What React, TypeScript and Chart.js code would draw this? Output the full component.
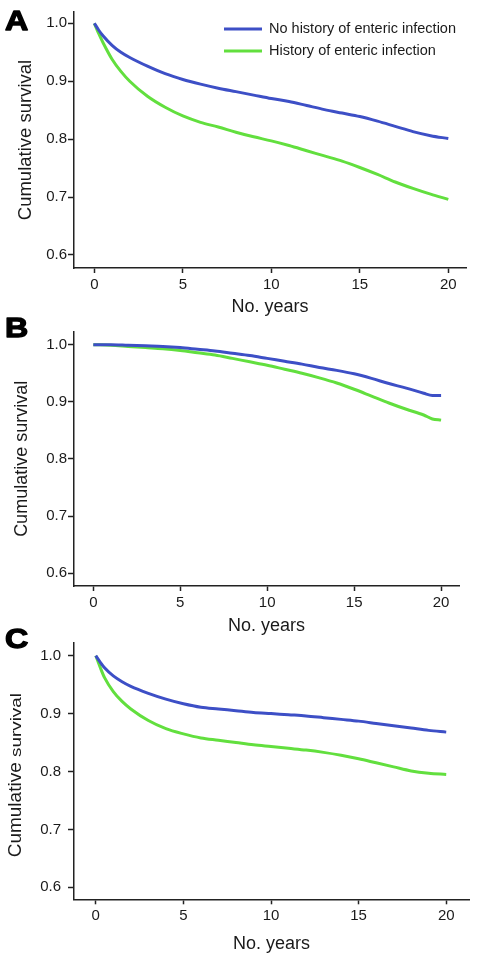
import React, { useEffect, useRef } from 'react';
import { Chart, registerables } from 'chart.js';

Chart.register(...registerables);

const FONT = "'Liberation Sans', Arial, sans-serif";

const SERIES_LABELS = ['No history of enteric infection', 'History of enteric infection'];
const SERIES_COLORS = ['#3d4fc6', '#62df3e'];
const X_TICKS = [0, 5, 10, 15, 20];
const Y_TICKS = [0.6, 0.7, 0.8, 0.9, 1.0];
const X_TITLE = 'No. years';
const Y_TITLE = 'Cumulative survival';

// Panel A
const YEARS_A = [0, 0.25, 0.5, 1, 1.5, 2, 3, 4, 5, 6, 7, 8, 9, 10, 11, 12, 13, 14, 15, 16, 17, 18, 19, 20];
const A_NO_HISTORY = [1.0, 0.988, 0.978, 0.962, 0.950, 0.941, 0.926, 0.913, 0.903, 0.895, 0.888, 0.882, 0.876, 0.870, 0.865, 0.858, 0.851, 0.845, 0.839, 0.831, 0.822, 0.813, 0.806, 0.801];
const A_HISTORY = [1.0, 0.982, 0.966, 0.938, 0.917, 0.900, 0.874, 0.855, 0.840, 0.829, 0.821, 0.812, 0.804, 0.797, 0.789, 0.780, 0.771, 0.762, 0.751, 0.739, 0.726, 0.715, 0.705, 0.696];

// Panel B
const YEARS_B = [0, 1, 2, 3, 4, 5, 6, 7, 8, 9, 10, 11, 12, 13, 14, 15, 16, 17, 18, 19, 19.5, 20];
const B_NO_HISTORY = [1.0, 1.0, 0.999, 0.998, 0.997, 0.995, 0.992, 0.989, 0.985, 0.981, 0.976, 0.971, 0.966, 0.960, 0.955, 0.949, 0.941, 0.932, 0.924, 0.915, 0.911, 0.911];
const B_HISTORY = [1.0, 0.999, 0.997, 0.995, 0.993, 0.990, 0.986, 0.982, 0.976, 0.970, 0.964, 0.957, 0.950, 0.942, 0.933, 0.922, 0.910, 0.898, 0.887, 0.877, 0.870, 0.868];

// Panel C
const YEARS_C = [0, 0.25, 0.5, 1, 1.5, 2, 3, 4, 5, 6, 7, 8, 9, 10, 11, 12, 13, 14, 15, 16, 17, 18, 19, 20];
const C_NO_HISTORY = [1.0, 0.989, 0.979, 0.965, 0.955, 0.947, 0.935, 0.925, 0.917, 0.911, 0.908, 0.905, 0.902, 0.900, 0.898, 0.896, 0.893, 0.890, 0.887, 0.883, 0.879, 0.875, 0.871, 0.868];
const C_HISTORY = [1.0, 0.980, 0.962, 0.938, 0.921, 0.908, 0.888, 0.874, 0.865, 0.858, 0.854, 0.850, 0.846, 0.843, 0.840, 0.837, 0.833, 0.828, 0.822, 0.815, 0.808, 0.801, 0.797, 0.795];

type Spec = {
  letter: string;
  letterBaseline: number;
  top: number;
  height: number;
  padTop: number;
  padRight: number;
  xHeight: number;
  xMin: number;
  xMax: number;
  yMin: number;
  yMax: number;
  yTickPad: number;
  yTitleSize: number;
  yTitlePad: number;
  xTitlePad: number;
  splitYTitle: boolean;
  legend: boolean;
  years: number[];
  noHistory: number[];
  history: number[];
};

const SPECS: Spec[] = [
  {
    letter: 'A', letterBaseline: 30, top: 0, height: 320, padTop: 12, padRight: 12, xHeight: 52,
    xMin: -1.15, xMax: 21.0, yMin: 0.5775, yMax: 1.0195, yTickPad: 1, yTitleSize: 18.5, yTitlePad: 14.5,
    xTitlePad: 2.2, splitYTitle: false, legend: true, years: YEARS_A, noHistory: A_NO_HISTORY, history: A_HISTORY,
  },
  {
    letter: 'B', letterBaseline: 27, top: 310, height: 330, padTop: 21.7, padRight: 19, xHeight: 54,
    xMin: -1.11, xMax: 21.03, yMin: 0.5778, yMax: 1.0227, yTickPad: 1, yTitleSize: 18, yTitlePad: 11.2,
    xTitlePad: 2.7, splitYTitle: false, legend: false, years: YEARS_B, noHistory: B_NO_HISTORY, history: B_HISTORY,
  },
  {
    letter: 'C', letterBaseline: 28, top: 620, height: 344, padTop: 23, padRight: 9, xHeight: 64.7,
    xMin: -1.243, xMax: 21.3, yMin: 0.5793, yMax: 1.0219, yTickPad: 7, yTitleSize: 19, yTitlePad: 3.5,
    xTitlePad: 9.4, splitYTitle: true, legend: false, years: YEARS_C, noHistory: C_NO_HISTORY, history: C_HISTORY,
  },
];

function makePlugins(spec: Spec) {
  return [
    {
      id: 'panelExtras',
      afterDraw(chart: any) {
        const ctx = chart.ctx as CanvasRenderingContext2D;
        // panel letter
        ctx.save();
        ctx.fillStyle = '#000';
        ctx.strokeStyle = '#000';
        ctx.lineWidth = 1.3;
        ctx.lineJoin = 'round';
        ctx.font = `bold 28px ${FONT}`;
        ctx.textBaseline = 'alphabetic';
        ctx.translate(5, spec.letterBaseline);
        ctx.scale(1.15, 1);
        ctx.fillText(spec.letter, 0, 0);
        ctx.strokeText(spec.letter, 0, 0);
        ctx.restore();

        // legend
        if (spec.legend) {
          chart.data.datasets.forEach((ds: any, i: number) => {
            const ly = 29 + i * 22;
            ctx.save();
            ctx.strokeStyle = ds.borderColor;
            ctx.lineWidth = 3;
            ctx.beginPath();
            ctx.moveTo(224, ly);
            ctx.lineTo(262, ly);
            ctx.stroke();
            ctx.fillStyle = '#1a1a1a';
            ctx.font = `14.5px ${FONT}`;
            ctx.textBaseline = 'alphabetic';
            ctx.textAlign = 'left';
            ctx.fillText(ds.label, 269, ly + 3.5);
            ctx.restore();
          });
        }

        // split y title (panel C)
        if (spec.splitYTitle) {
          const area = chart.chartArea;
          const parts = Y_TITLE.split(' ');
          ctx.save();
          ctx.fillStyle = '#1a1a1a';
          ctx.textBaseline = 'alphabetic';
          ctx.font = `19px ${FONT}`;
          const w1 = ctx.measureText(parts[0] + ' ').width;
          ctx.font = `14px ${FONT}`;
          const w2raw = ctx.measureText(parts[1]).width;
          const w2 = 64;
          const total = w1 + w2;
          const cy = (area.top + area.bottom) / 2 + 4;
          ctx.translate(20.5, cy + total / 2);
          ctx.rotate(-Math.PI / 2);
          ctx.font = `19px ${FONT}`;
          ctx.fillText(parts[0], 0, 0);
          ctx.translate(w1, 0);
          ctx.scale(w2 / w2raw, 1);
          ctx.font = `14px ${FONT}`;
          ctx.fillText(parts[1], 0, 0);
          ctx.restore();
        }
      },
    },
  ];
}

function Panel({ spec }: { spec: Spec }) {
  const ref = useRef<HTMLCanvasElement | null>(null);
  useEffect(() => {
    if (!ref.current) return;
    const chart = new Chart(ref.current, {
      type: 'line',
      data: {
        datasets: [
          {
            label: SERIES_LABELS[0],
            data: spec.years.map((x, i) => ({ x, y: spec.noHistory[i] })),
            borderColor: SERIES_COLORS[0],
            borderWidth: 3,
            pointRadius: 0,
            fill: false,
            cubicInterpolationMode: 'monotone',
          },
          {
            label: SERIES_LABELS[1],
            data: spec.years.map((x, i) => ({ x, y: spec.history[i] })),
            borderColor: SERIES_COLORS[1],
            borderWidth: 3,
            pointRadius: 0,
            fill: false,
            cubicInterpolationMode: 'monotone',
          },
        ],
      },
      options: {
        animation: false,
        responsive: false,
        devicePixelRatio: 1,
        layout: { padding: { left: 0, top: spec.padTop, right: spec.padRight, bottom: 0 } },
        plugins: { legend: { display: false }, tooltip: { enabled: false } },
        scales: {
          x: {
            type: 'linear',
            min: spec.xMin,
            max: spec.xMax,
            afterBuildTicks: (s: any) => {
              s.ticks = X_TICKS.map((v) => ({ value: v }));
            },
            afterFit: (s: any) => {
              s.height = spec.xHeight;
            },
            border: { display: true, color: '#222', width: 1.5 },
            grid: { display: true, drawOnChartArea: false, drawTicks: true, tickLength: 5, tickColor: '#222', tickWidth: 1.5 },
            ticks: {
              color: '#1a1a1a',
              font: { family: FONT, size: 15 },
              padding: 3,
              maxRotation: 0,
              autoSkip: false,
              callback: (v: any) => String(v),
            },
            title: {
              display: true,
              text: X_TITLE,
              color: '#1a1a1a',
              font: { family: FONT, size: 18 },
              padding: { top: 0, bottom: spec.xTitlePad },
            },
          },
          y: {
            type: 'linear',
            min: spec.yMin,
            max: spec.yMax,
            afterBuildTicks: (s: any) => {
              s.ticks = Y_TICKS.map((v) => ({ value: v }));
            },
            afterFit: (s: any) => {
              s.width = 74;
            },
            border: { display: true, color: '#222', width: 1.5 },
            grid: { display: true, drawOnChartArea: false, drawTicks: true, tickLength: 6, tickColor: '#222', tickWidth: 1.5 },
            ticks: {
              color: '#1a1a1a',
              font: { family: FONT, size: 15 },
              padding: spec.yTickPad,
              autoSkip: false,
              callback: (v: any) => Number(v).toFixed(1),
            },
            title: {
              display: !spec.splitYTitle,
              text: Y_TITLE,
              color: '#1a1a1a',
              font: { family: FONT, size: spec.yTitleSize },
              padding: { top: spec.yTitlePad, bottom: 0 },
            },
          },
        },
      } as any,
      plugins: makePlugins(spec) as any,
    });
    return () => chart.destroy();
  }, [spec]);
  return (
    <canvas
      ref={ref}
      width={478}
      height={spec.height}
      style={{ position: 'absolute', left: 0, top: spec.top, width: 478, height: spec.height }}
    />
  );
}

export default function App() {
  return (
    <div style={{ position: 'absolute', left: 0, top: 0, width: 478, height: 964, background: '#fff', overflow: 'hidden' }}>
      {SPECS.map((s) => (
        <Panel key={s.letter} spec={s} />
      ))}
    </div>
  );
}
